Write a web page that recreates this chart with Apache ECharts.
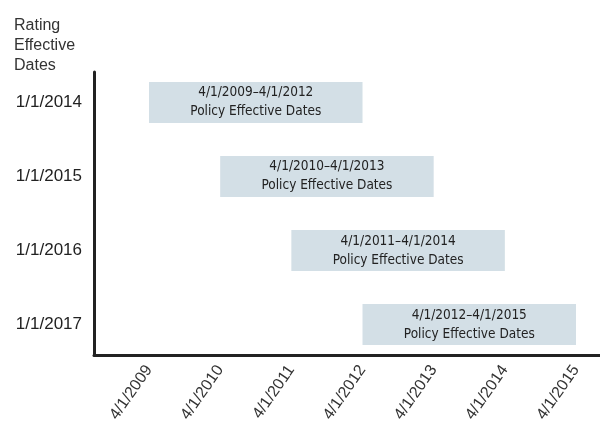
<!DOCTYPE html>
<html>
<head>
<meta charset="utf-8">
<script src="https://cdn.jsdelivr.net/npm/echarts@6/dist/echarts.min.js"></script>
<style>html,body{margin:0;padding:0;background:#fff}#c{width:600px;height:433px}</style>
</head>
<body>
<div id="c"></div>
<script>
const ratingDates = ['1/1/2014', '1/1/2015', '1/1/2016', '1/1/2017'];
const policyStartYears = [2009, 2010, 2011, 2012];
const policyEndYears = [2012, 2013, 2014, 2015];
const xTickYears = [2009, 2010, 2011, 2012, 2013, 2014, 2015];
const barCaption = 'Policy Effective Dates';

const seriesData = ratingDates.map((d, i) => [policyStartYears[i], policyEndYears[i], i]);
const fmtDate = y => '4/1/' + y;

const chart = echarts.init(document.getElementById('c'), null, {renderer: 'canvas'});
chart.setOption({
  animation: false,
  title: {
    text: 'Rating\nEffective\nDates',
    left: 14, top: 16, padding: 0,
    textStyle: {fontFamily: 'Liberation Sans', fontSize: 16, fontWeight: 'normal', color: '#333', lineHeight: 20}
  },
  grid: {left: 94, right: 0, top: 72, bottom: 78, containLabel: false},
  xAxis: {
    type: 'value',
    min: 2008.227, max: 2015.337,
    axisLine: {show: true, onZero: false, lineStyle: {color: '#222', width: 3}},
    axisTick: {show: false},
    splitLine: {show: false},
    axisLabel: {
      customValues: xTickYears,
      rotate: 55,
      margin: 12,
      formatter: v => fmtDate(Math.round(v)),
      fontFamily: 'Liberation Sans', fontSize: 16, color: '#333'
    }
  },
  yAxis: {
    type: 'value',
    inverse: true,
    min: -0.412, max: 3.412,
    axisLine: {show: true, onZero: false, lineStyle: {color: '#222', width: 3}},
    axisTick: {show: false},
    splitLine: {show: false},
    axisLabel: {
      customValues: [0, 1, 2, 3],
      margin: 12,
      formatter: v => ratingDates[Math.round(v)],
      fontFamily: 'Liberation Sans', fontSize: 17, color: '#222'
    }
  },
  series: [{
    type: 'custom',
    encode: {x: [0, 1], y: 2},
    data: seriesData,
    renderItem: (params, api) => {
      const s = api.coord([api.value(0), api.value(2)]);
      const e = api.coord([api.value(1), api.value(2)]);
      const h = api.size([0, 1])[1] * 0.554;
      return {
        type: 'group',
        children: [
          {type: 'rect', shape: {x: s[0], y: s[1] - h / 2, width: e[0] - s[0], height: h}, style: {fill: '#d3dfe6'}},
          {type: 'text', x: (s[0] + e[0]) / 2, y: s[1],
            style: {
              text: fmtDate(api.value(0)) + '\u2013' + fmtDate(api.value(1)) + '\n' + barCaption,
              align: 'center', verticalAlign: 'middle',
              fontFamily: "'Liberation Sans Narrow', 'DejaVu Sans Condensed', 'Liberation Sans', sans-serif",
              fontSize: 13.5, lineHeight: 19, fill: '#222'
            }}
        ]
      };
    }
  }]
});
</script>
</body>
</html>
